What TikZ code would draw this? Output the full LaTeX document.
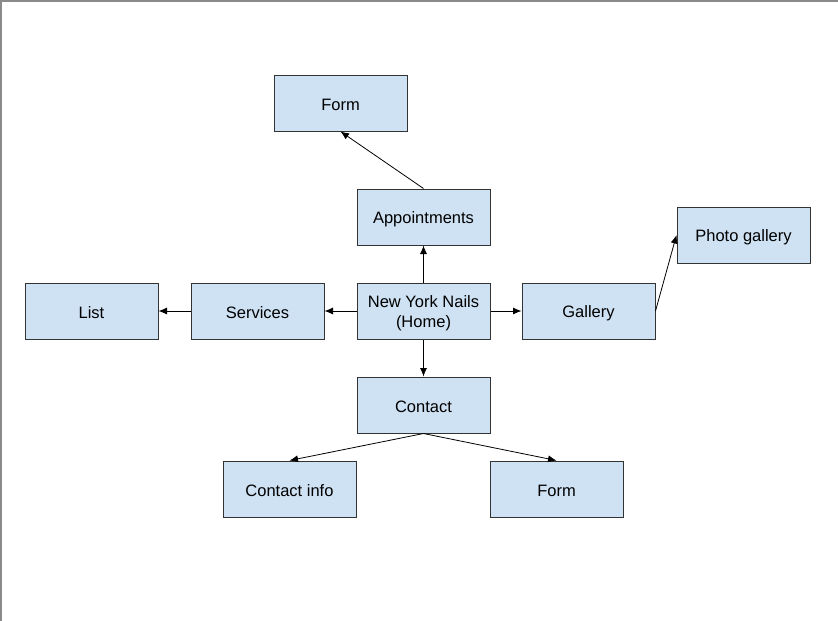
\documentclass[tikz,border=0pt]{standalone}
\usepackage{fontspec}
\setmainfont{Liberation Sans}
\usetikzlibrary{arrows.meta}
\definecolor{boxfill}{HTML}{CFE2F3}
\definecolor{boxline}{HTML}{333333}
\definecolor{frameline}{HTML}{8A8A8A}
\begin{document}
\begin{tikzpicture}[x=1pt,y=-1pt,
  pagebox/.style={draw=boxline,fill=boxfill,line width=1pt,minimum width=133pt,minimum height=56pt,inner sep=0pt,align=center,font=\fontsize{16.5}{20}\selectfont},
  boxtext/.style={yshift=-2pt,align=center,font=\fontsize{16.5}{20}\selectfont,inner sep=0pt},
  link/.style={draw=black,line width=0.8pt,-{Latex[length=8.5pt,width=7pt]}}]
\useasboundingbox (0,0) rectangle (838,621);
\draw[frameline,line width=1.5pt] (1,621) -- (1,1) -- (838,1);
\node[pagebox] (formtop) at (340.5,103) {};
\node[pagebox] (appt) at (423.5,217) {};
\node[pagebox] (photo) at (743.5,235) {};
\node[pagebox] (list) at (91.5,311) {};
\node[pagebox] (services) at (257.5,311) {};
\node[pagebox] (home) at (423.5,311) {};
\node[pagebox] (gallery) at (588.5,311) {};
\node[pagebox] (contact) at (423.5,405) {};
\node[pagebox] (cinfo) at (289.5,489) {};
\node[pagebox] (formbot) at (556.5,489) {};
\node[boxtext] (formtopt) at (formtop.center) {Form};
\node[boxtext] (apptt) at (appt.center) {Appointments};
\node[boxtext] (photot) at (photo.center) {Photo gallery};
\node[boxtext] (listt) at (list.center) {List};
\node[boxtext] (servicest) at (services.center) {Services};
\node[boxtext] (homet) at (home.center) {New York Nails\\(Home)};
\node[boxtext] (galleryt) at (gallery.center) {Gallery};
\node[boxtext] (contactt) at (contact.center) {Contact};
\node[boxtext] (cinfot) at (cinfo.center) {Contact info};
\node[boxtext] (formbott) at (formbot.center) {Form};
\draw[link] (home.north) -- (appt.south);
\draw[link] (home.south) -- (contact.north);
\draw[link] (home.west) -- (services.east);
\draw[link] (services.west) -- (list.east);
\draw[link] (home.east) -- (gallery.west);
\draw[link] (appt.north) -- (formtop.south);
\draw[link] (gallery.east) -- (photo.west);
\draw[link] (contact.south) -- (cinfo.north);
\draw[link] (contact.south) -- (formbot.north);
\end{tikzpicture}
\end{document}
